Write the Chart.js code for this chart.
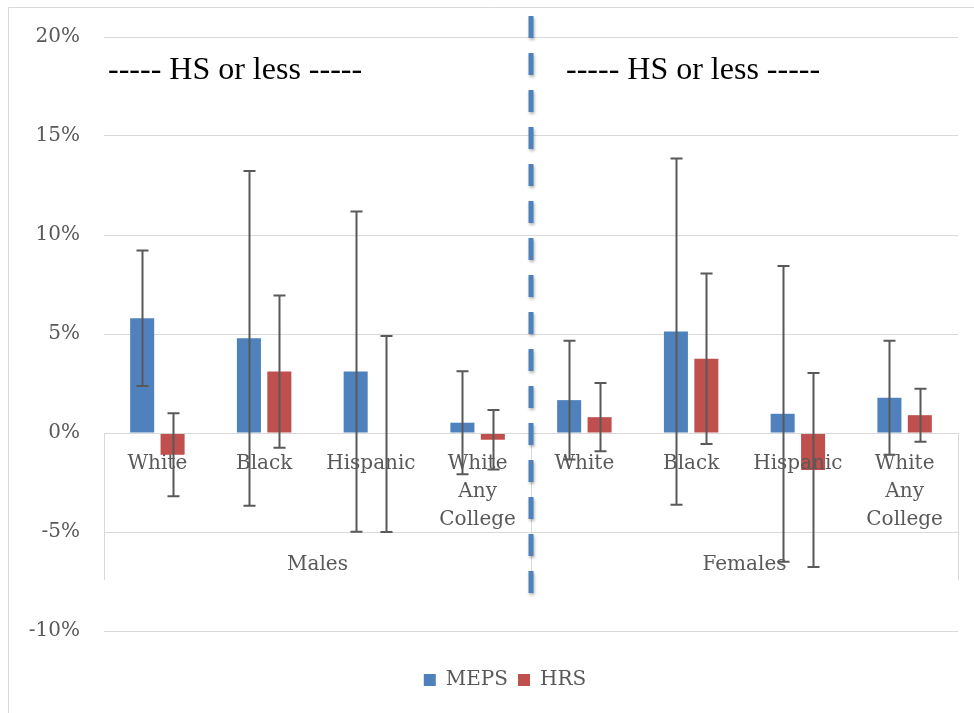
<!DOCTYPE html>
<html>
<head>
<meta charset="utf-8">
<script src="https://cdn.jsdelivr.net/npm/chart.js@4"></script>
<style>
  html, body { margin: 0; padding: 0; background: #fff; }
  #wrap { width: 974px; height: 713px; position: relative; }
</style>
</head>
<body>
<div id="wrap"><canvas id="chart"></canvas></div>
<script>
// categories (inner level) and groups (outer level)
const categories = ["White", "Black", "Hispanic", ["White", "Any", "College"],
                    "White", "Black", "Hispanic", ["White", "Any", "College"]];
const groups = ["Males", "Females"];
const groupNote = "----- HS or less -----";

// values in percent
const mepsValues = [5.8, 4.78, 3.1, 0.52, 1.66, 5.12, 0.97, 1.78];
const mepsErrors = [3.42, 8.45, 8.09, 2.6, 3.0, 8.74, 7.47, 2.88];
const hrsValues = [-1.1, 3.1, -0.05, -0.34, 0.8, 3.75, -1.87, 0.9];
const hrsErrors = [2.1, 3.85, 4.95, 1.5, 1.72, 4.3, 4.9, 1.34];

const yTicks = { min: -10, max: 20, step: 5 };

const textGray = "#595959";
const gridGray = "#D9D9D9";
const serif = "'DejaVu Serif', serif";

// error bars, category labels, divider and notes
const extras = {
  id: "extras",
  afterLayout(chart) {
    // excel puts the legend a bit right of centre
    chart.legend.left += 26;
    chart.legend.right += 26;
  },
  beforeDraw(chart) {
    const ctx = chart.ctx;
    ctx.save();
    ctx.strokeStyle = gridGray;
    ctx.lineWidth = 1;
    ctx.beginPath();
    ctx.moveTo(8.5, 713);
    ctx.lineTo(8.5, 7.5);
    ctx.lineTo(974, 7.5);
    ctx.stroke();
    ctx.restore();
  },
  afterDatasetsDraw(chart) {
    const ctx = chart.ctx;
    const x = chart.scales.x;
    const y = chart.scales.y;
    const area = chart.chartArea;
    const y0 = y.getPixelForValue(0);

    // category axis frame
    ctx.save();
    ctx.strokeStyle = gridGray;
    ctx.lineWidth = 1;
    const boxBottom = y0 + 147;
    const mid = (x.getPixelForValue(3) + x.getPixelForValue(4)) / 2;
    [area.left, mid, area.right].forEach(px => {
      ctx.beginPath();
      ctx.moveTo(Math.round(px) + 0.5, y0);
      ctx.lineTo(Math.round(px) + 0.5, boxBottom);
      ctx.stroke();
    });
    ctx.beginPath();
    ctx.moveTo(area.left, Math.round(y0) + 0.5);
    ctx.lineTo(area.right, Math.round(y0) + 0.5);
    ctx.stroke();
    ctx.restore();

    // labels
    ctx.save();
    ctx.fillStyle = textGray;
    ctx.font = "20px " + serif;
    ctx.textAlign = "center";
    ctx.textBaseline = "middle";
    categories.forEach((c, i) => {
      const lines = Array.isArray(c) ? c : [c];
      const px = x.getPixelForValue(i);
      lines.forEach((t, k) => ctx.fillText(t, px, y0 + 31 + k * 28));
    });
    groups.forEach((g, gi) => {
      const px = (x.getPixelForValue(gi * 4) + x.getPixelForValue(gi * 4 + 3)) / 2;
      ctx.fillText(g, px, y0 + 132);
    });
    ctx.restore();

    // error bars
    ctx.save();
    ctx.strokeStyle = textGray;
    ctx.lineWidth = 2;
    const errs = [mepsErrors, hrsErrors];
    chart.data.datasets.forEach((ds, di) => {
      const meta = chart.getDatasetMeta(di);
      meta.data.forEach((bar, i) => {
        const v = ds.data[i];
        const top = y.getPixelForValue(v + errs[di][i]);
        const bot = y.getPixelForValue(v - errs[di][i]);
        const bx = Math.round(bar.x) + 0.5;
        ctx.beginPath();
        ctx.moveTo(bx, top);
        ctx.lineTo(bx, bot);
        ctx.moveTo(bx - 6, top);
        ctx.lineTo(bx + 6, top);
        ctx.moveTo(bx - 6, bot);
        ctx.lineTo(bx + 6, bot);
        ctx.stroke();
      });
    });
    ctx.restore();

    // dashed divider
    ctx.save();
    ctx.strokeStyle = "#4F81BD";
    ctx.lineWidth = 5;
    ctx.setLineDash([22, 15]);
    ctx.shadowColor = "rgba(0,0,0,0.3)";
    ctx.shadowBlur = 3;
    ctx.shadowOffsetX = 1;
    ctx.shadowOffsetY = 2;
    ctx.beginPath();
    ctx.moveTo(mid, 16);
    ctx.lineTo(mid, 608);
    ctx.stroke();
    ctx.restore();

    // group notes
    ctx.save();
    ctx.fillStyle = "#000";
    ctx.font = "32px 'Liberation Serif', serif";
    ctx.textAlign = "left";
    ctx.textBaseline = "middle";
    ctx.fillText(groupNote, area.left + 4, 71);
    ctx.fillText(groupNote, mid + 35, 71);
    ctx.restore();
  }
};

new Chart(document.getElementById("chart"), {
  type: "bar",
  data: {
    labels: categories,
    datasets: [
      { label: "MEPS", data: mepsValues, backgroundColor: "#4F81BD" },
      { label: "HRS", data: hrsValues, backgroundColor: "#C0504D" }
    ]
  },
  options: {
    responsive: true,
    maintainAspectRatio: false,
    animation: false,
    categoryPercentage: 0.57,
    barPercentage: 0.79,
    layout: { padding: { left: 0, right: 16, top: 37, bottom: 13 } },
    plugins: {
      legend: {
        position: "bottom",
        labels: {
          boxWidth: 12,
          boxHeight: 12,
          padding: 10,
          color: textGray,
          font: { family: serif, size: 20 }
        }
      },
      tooltip: { enabled: false }
    },
    scales: {
      x: {
        grid: { display: false },
        border: { display: false },
        ticks: { display: false },
        afterFit(scale) { scale.height = 29; }
      },
      y: {
        min: yTicks.min,
        max: yTicks.max,
        grid: { color: gridGray, drawTicks: false },
        border: { display: false },
        ticks: {
          stepSize: yTicks.step,
          padding: 24,
          color: textGray,
          font: { family: serif, size: 20 },
          callback: v => v + "%"
        },
        afterFit(scale) { scale.width = 104; }
      }
    }
  },
  plugins: [extras]
});
</script>
</body>
</html>
